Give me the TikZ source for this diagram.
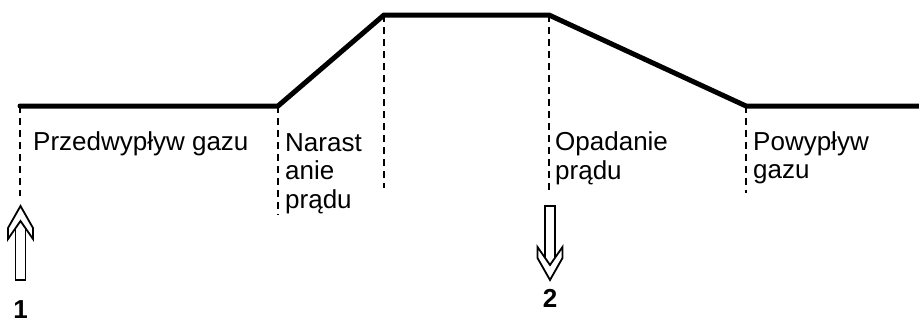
\documentclass[tikz,border=0pt]{standalone}
\usepackage{fontspec}
\setmainfont{Liberation Sans}
\usetikzlibrary{positioning}
\tikzset{
  profile/.style={line width=5pt, line join=miter, line cap=round},
  guide/.style={line width=2.2pt, dash pattern=on 7pt off 5pt},
  phase/.style={anchor=base west, inner sep=0pt, align=left,
                font=\fontsize{26}{28.5}\selectfont},
  marker/.style={inner sep=0pt, font=\fontsize{26}{30}\selectfont\bfseries},
  hollowarrow/.pic={
    \draw[line width=1.8pt, line join=miter]
      (0,0) -- (-12.5,22) -- (-12.5,33) -- (0,15) -- (12.5,33) -- (12.5,22) -- cycle;
    \draw[line width=1.8pt] (-5,22.2) -- (-5,74) -- (5,74) -- (5,22.2);
  },
}
\begin{document}
\begin{tikzpicture}[x=1pt, y=-1pt]
\useasboundingbox (0,0) rectangle (919,324);

%% profile corners
\coordinate (preflow)  at (20,106);
\coordinate (upstart)  at (278,106);
\coordinate (upend)    at (384,15);
\coordinate (downstart) at (549,15);
\coordinate (postflow) at (746,106);
\coordinate (lineend)  at (919,106);

%% ends of the dashed guides
\coordinate (g1) at (20,196);
\coordinate (g2) at (278,215);
\coordinate (g3) at (384,188);
\coordinate (g4) at (549,190);
\coordinate (g5) at (746,193);

%% profile
\draw[profile] (preflow) -- (upstart) -- (upend) -- (downstart) -- (postflow) -- (lineend);

%% guides
\draw[guide] (preflow)   -- (g1);
\draw[guide] (upstart)   -- (g2);
\draw[guide] (upend)     -- (g3);
\draw[guide] (downstart) -- (g4);
\draw[guide] (postflow)  -- (g5);

%% phase labels (base = last line)
\node[phase] (t_pre)  at (33,150)    {Przedwypływ gazu};
\node[phase] (t_up)   at (285,208)   {Narast\\anie\\prądu};
\node[phase] (t_down) at (555,179)   {Opadanie\\prądu};
\node[phase] (t_post) at (753,178.5) {Powypływ\\gazu};

%% start / stop markers
\coordinate (start) at (20.5,206);
\coordinate (stop)  at (550,280);
\pic at (start) {hollowarrow};
\pic[yscale=-1] at (stop) {hollowarrow};
\node[marker] (n1) at (20.5,310) {1};
\node[marker] (n2) at (550,298)  {2};

\end{tikzpicture}
\end{document}
